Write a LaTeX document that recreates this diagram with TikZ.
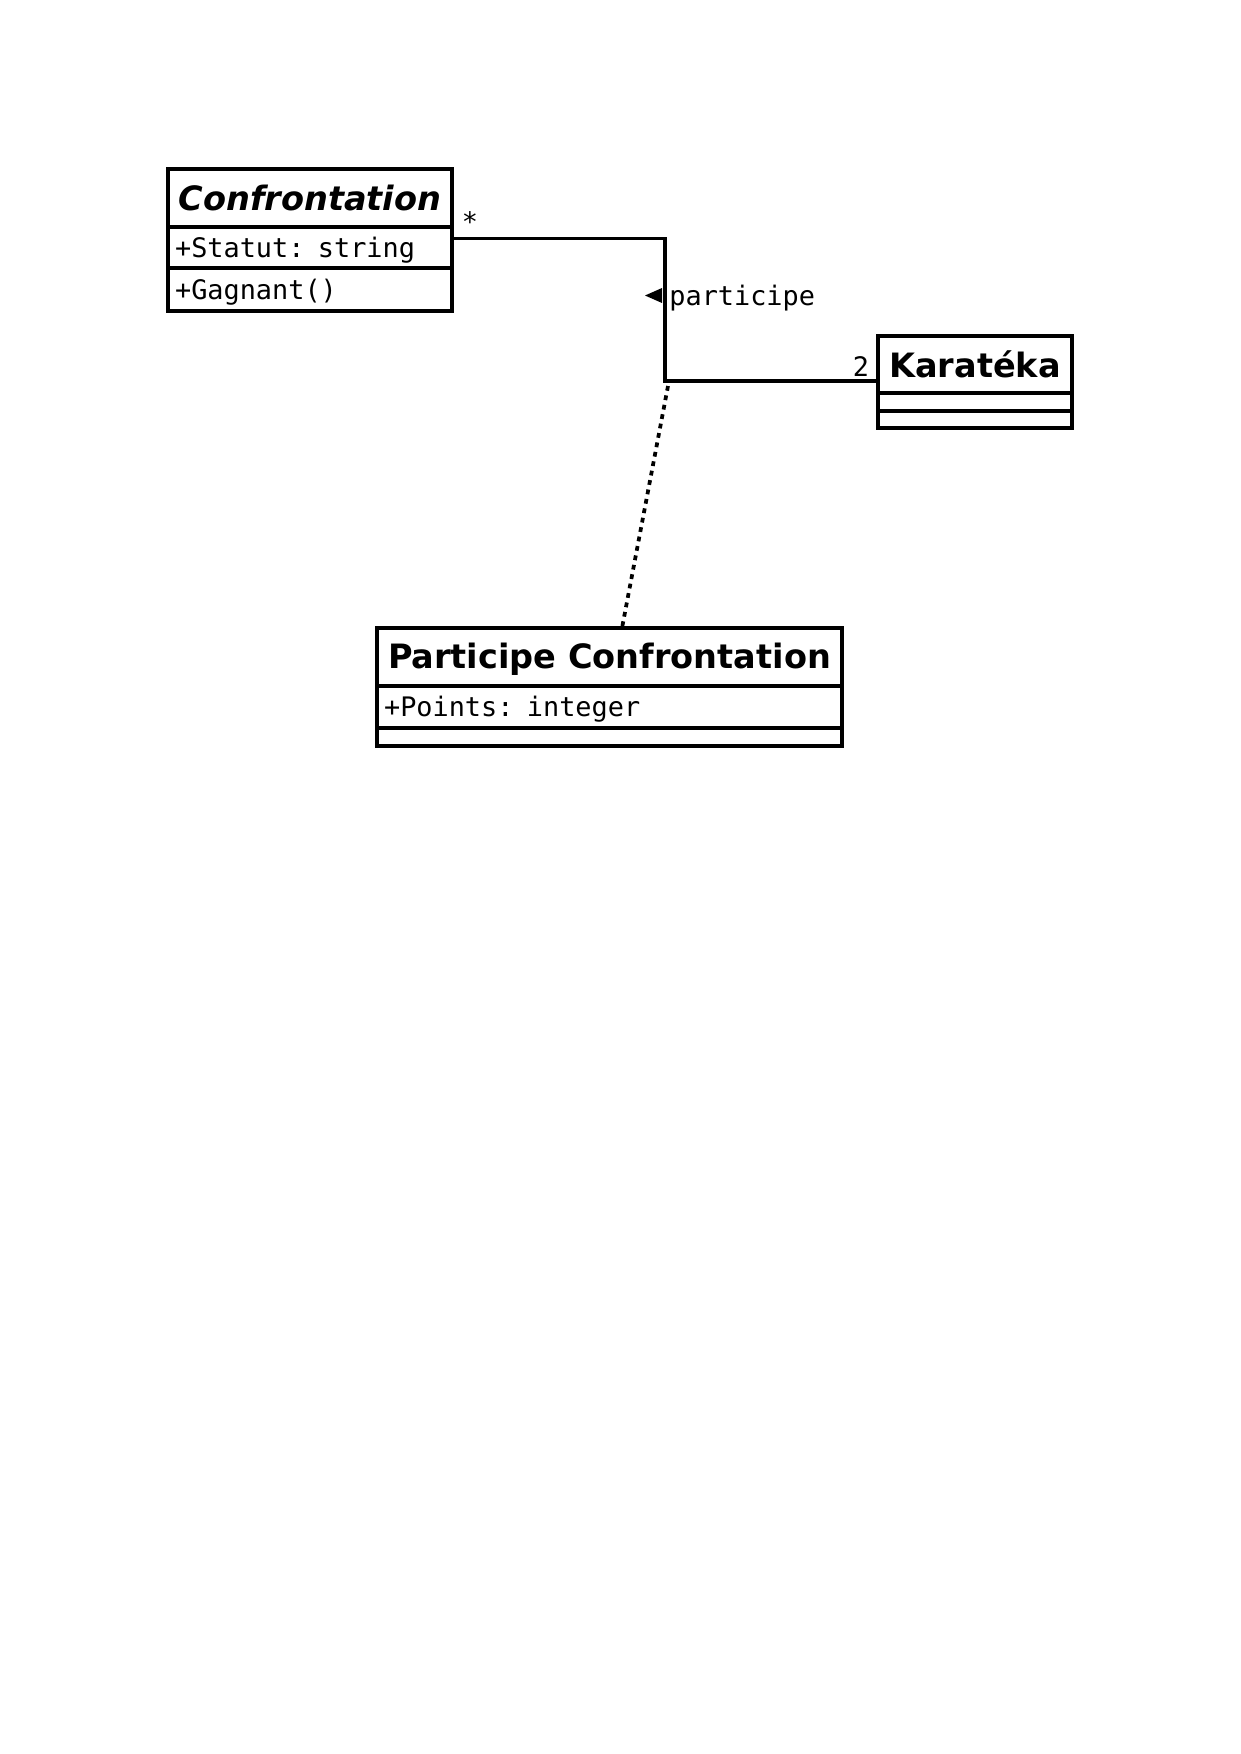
\documentclass[tikz,border=0pt]{standalone}
\usepackage{fontspec}
\setmainfont{DejaVu Sans}
\newfontfamily\monof{DejaVu Sans Mono}
\usetikzlibrary{calc}
\newcommand\lowertxt[1]{\raisebox{-1.1pt}[\height][\depth]{#1}}
\tikzset{
  comp/.style={draw, line width=1.6pt, rectangle, anchor=north west, outer sep=0pt, inner ysep=0pt},
  titlef/.style={font=\fontsize{16.1}{19}\selectfont\bfseries},
  attrf/.style={font=\fontsize{12.9}{15}\selectfont\monof, inner xsep=3.4pt, align=left},
  lbl/.style={font=\fontsize{12.9}{15}\selectfont\monof, inner sep=0pt},
  assoc/.style={line width=1.7pt},
  assocdot/.style={line width=1.8pt, dash pattern=on 2.3pt off 2.3pt}
}
\begin{document}
\begin{tikzpicture}[x=0.48006pt, y=-0.48006pt]
\useasboundingbox (0,0) rectangle (1240,1754);
% Confrontation
\node[comp, titlef, minimum width=136.34pt, minimum height=27.84pt] (ctitle) at (168,169) {\itshape Confrontation};
\node[comp, attrf, text width=129.5pt, minimum height=19.68pt] (cattr) at (168,227) {\lowertxt{+Statut: string}};
\node[comp, attrf, text width=129.5pt, minimum height=20.64pt] (cop) at (168,268) {\lowertxt{+Gagnant()}};
% Karateka
\node[comp, titlef, minimum width=93.13pt, minimum height=27.36pt] (ktitle) at (878,336) {Karatéka};
\node[comp, minimum width=93.13pt, minimum height=8.64pt] (kattr) at (878,393) {};
\node[comp, minimum width=93.13pt, minimum height=8.16pt] (kop) at (878,411) {};
% Participe Confrontation
\node[comp, titlef, minimum width=223.23pt, minimum height=27.84pt] (ptitle) at (377,628) {\lowertxt{Participe Confrontation}};
\node[comp, attrf, text width=216.4pt, minimum height=20.16pt] (pattr) at (377,686) {\lowertxt{+Points: integer}};
\node[comp, minimum width=223.23pt, minimum height=8.64pt] (pop) at (377,728) {};
% association
\coordinate (cend) at ($(cattr.east)+(0,-9)$);
\coordinate (corner) at (665,381);
\draw[assoc] (cend) -| (corner) -- (corner -| ktitle.west);
\draw[assocdot] ($(corner)+(3,5)$) -- ($(ptitle.north)+(12.5,0)$);
% labels
\node[lbl, anchor=center] (mstar) at (470,222) {*};
\node[lbl, anchor=center] (mtwo) at (861,367) {2};
\fill (662,288) -- (662,303) -- (645,295.5) -- cycle;
\node[lbl, anchor=west] (aname) at (669,298) {participe};
\end{tikzpicture}
\end{document}
